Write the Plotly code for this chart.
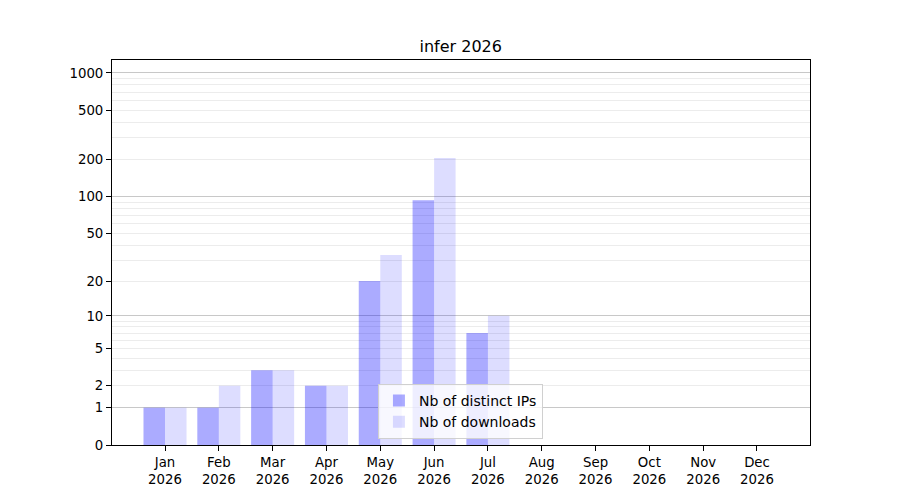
import plotly.graph_objects as go

months = ['Jan', 'Feb', 'Mar', 'Apr', 'May', 'Jun', 'Jul', 'Aug', 'Sep', 'Oct', 'Nov', 'Dec']
year = '2026'
nb_ips = [1, 1, 3, 2, 20, 93, 7, 0, 0, 0, 0, 0]
nb_downloads = [1, 2, 3, 2, 33, 205, 10, 0, 0, 0, 0, 0]

y_ticks = [0, 1, 2, 5, 10, 20, 50, 100, 200, 500, 1000]
y_major_grid = [1, 10, 100, 1000]
y_minor_grid = [m * d for d in (1, 10, 100) for m in range(2, 10)]

labels = [f'{m}<br>{year}' for m in months]

# log(1+x) scale: log axis, bars start at 1 (= value 0)
fig = go.Figure()
fig.add_trace(go.Bar(x=labels, y=nb_ips, base=1, name='Nb of distinct IPs',
                     marker=dict(color='rgba(0,0,255,0.33)', line=dict(width=0))))
fig.add_trace(go.Bar(x=labels, y=nb_downloads, base=1, name='Nb of downloads',
                     marker=dict(color='rgba(0,0,255,0.135)', line=dict(width=0))))

# page body has an 8px margin, so shift everything up/left by 8
fig.update_layout(
    width=900, height=500,
    margin=dict(l=104, r=98, t=52, b=63),
    paper_bgcolor='white', plot_bgcolor='white',
    font=dict(family='DejaVu Sans', size=13.3, color='black'),
    title=dict(text='infer ' + year, x=0.503, xanchor='center', y=0.924, yanchor='middle',
               font=dict(size=16)),
    barmode='group', bargap=0.2, bargroupgap=0,
    legend=dict(x=0.381, y=0.016, xanchor='left', yanchor='bottom',
                bgcolor='rgba(255,255,255,0.8)', bordercolor='#d0d0d0', borderwidth=1,
                font=dict(size=14), tracegroupgap=0),
    showlegend=True,
)

fig.update_xaxes(range=[-0.985, 11.985], showline=True, linecolor='black', linewidth=1,
                 mirror=True, ticks='outside', ticklen=5, tickcolor='black', showgrid=False)

fig.update_yaxes(type='log', range=[0, 3.105],
                 tickvals=[v + 1 for v in y_ticks], ticktext=[str(v) for v in y_ticks],
                 showline=True, linecolor='black', linewidth=1, mirror=True,
                 ticks='outside', ticklen=5, tickcolor='black',
                 showgrid=True, gridcolor='#ececec', gridwidth=1, zeroline=False,
                 minor=dict(tickvals=[v + 1 for v in y_minor_grid], showgrid=True,
                            gridcolor='#ececec', gridwidth=1, ticks=''))

# darker grid lines at the decades
fig.update_layout(yaxis2=dict(overlaying='y', type='log', range=[0, 3.105],
                              tickvals=[v + 1 for v in y_major_grid], showticklabels=False,
                              showgrid=True, gridcolor='#c8c8c8', gridwidth=1,
                              zeroline=False, showline=False, ticks=''))
fig.add_trace(go.Scatter(x=[labels[0]], y=[None], yaxis='y2', showlegend=False,
                         hoverinfo='skip'))

fig.write_html("out.html")
